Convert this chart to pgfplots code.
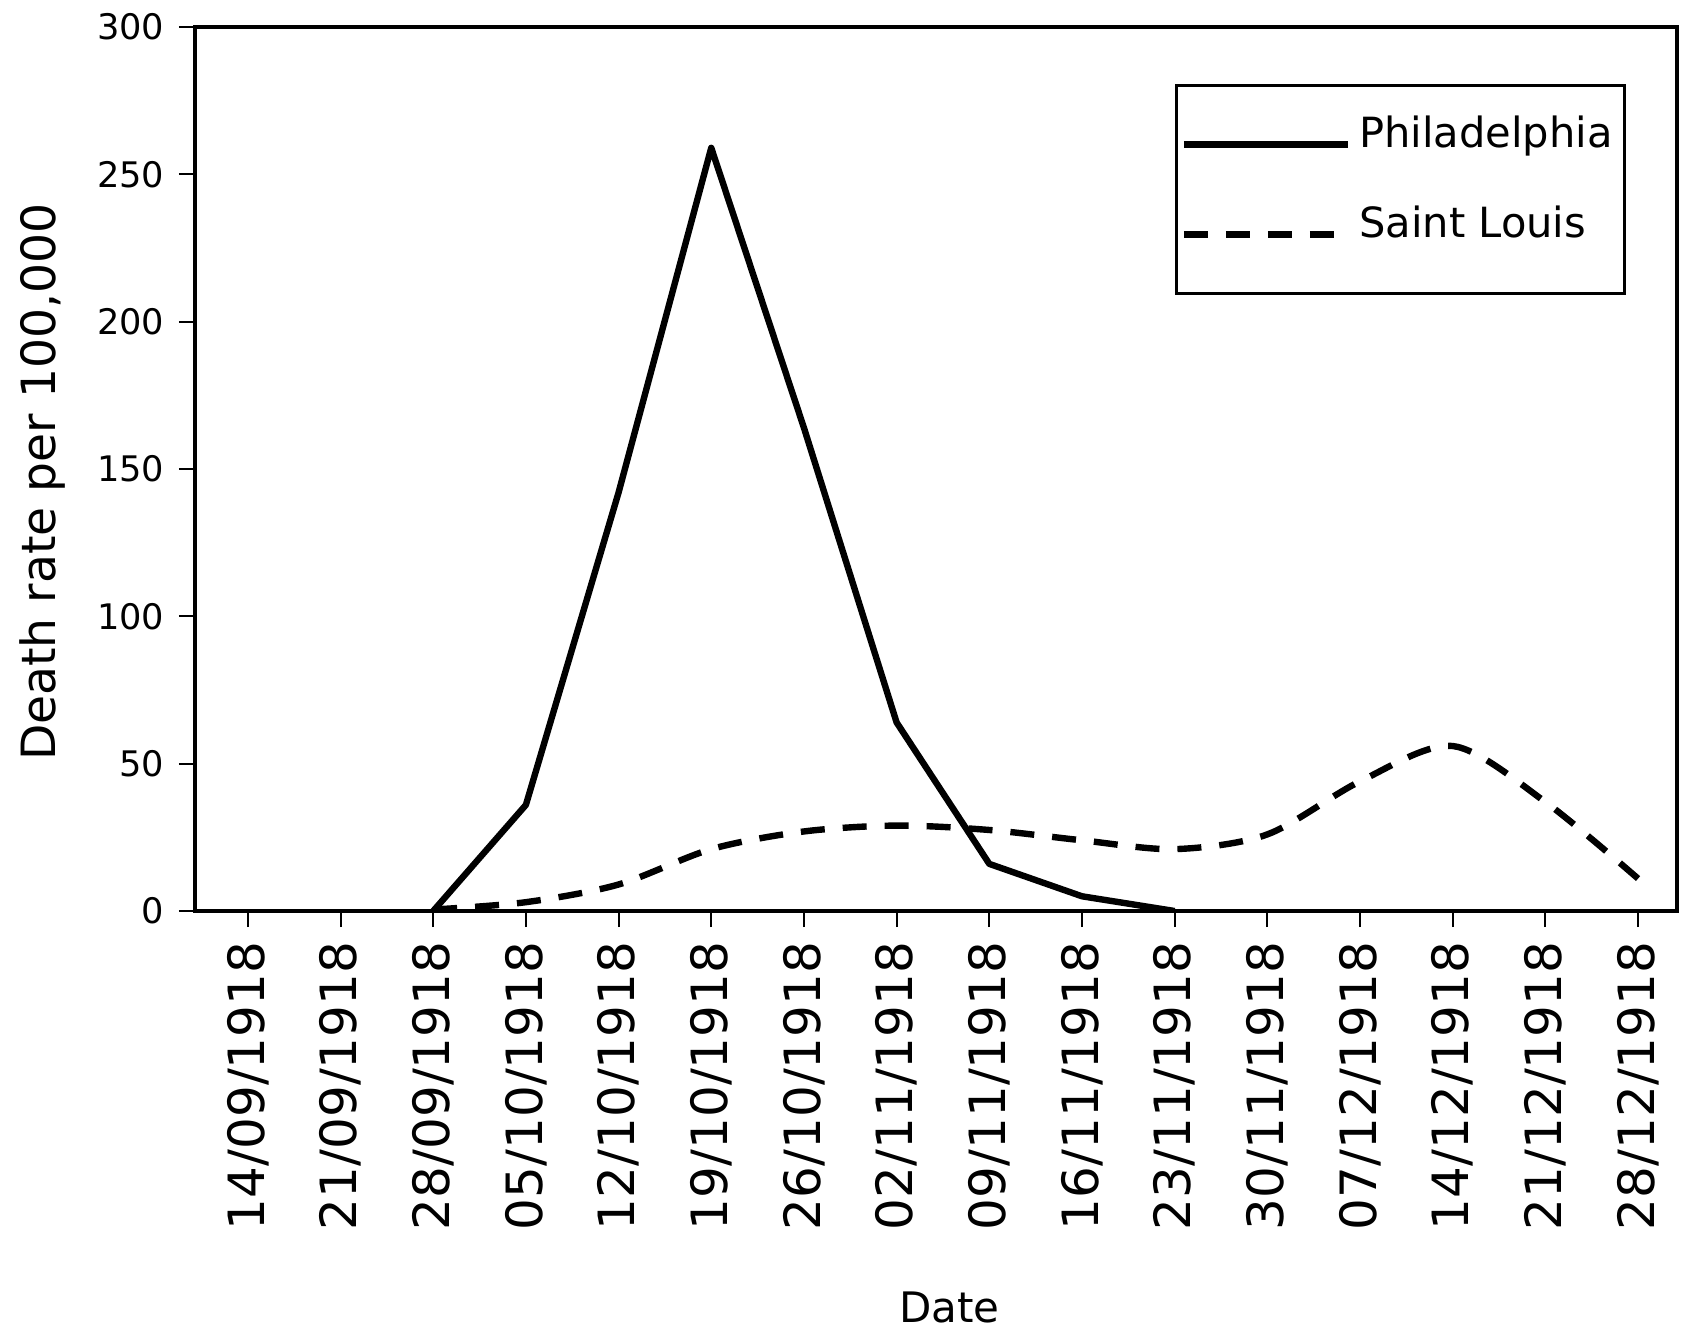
\documentclass[border=0pt]{standalone}
\usepackage{fontspec}
\setmainfont{DejaVu Sans}
\usepackage{pgfplots}
\pgfplotsset{compat=1.18}
\begin{document}
\begin{tikzpicture}
\path[use as bounding box] (-48.75pt,-105.25pt) rectangle (374pt,227.75pt);
\begin{axis}[
  at={(0pt,0pt)}, anchor=south west,
  scale only axis,
  width=370.5pt, height=221pt,
  xmin=-0.57, xmax=15.42,
  ymin=0, ymax=300,
  xtick={0,1,...,15},
  xticklabels={14/09/1918,21/09/1918,28/09/1918,05/10/1918,12/10/1918,19/10/1918,26/10/1918,02/11/1918,09/11/1918,16/11/1918,23/11/1918,30/11/1918,07/12/1918,14/12/1918,21/12/1918,28/12/1918},
  ytick={0,50,...,300},
  tick align=outside,
  xtick pos=bottom, ytick pos=left,
  major tick length=4pt,
  axis line style={line width=0.8pt},
  every tick/.style={black, line width=0.5pt},
  xticklabel shift=3.5pt,
  yticklabel shift=1.5pt,
  xticklabel style={rotate=90, anchor=east, inner sep=0pt, font=\fontsize{12.5}{14}\selectfont},
  yticklabel style={anchor=east, inner sep=0pt, xshift=-2pt, font=\fontsize{8.8}{10}\selectfont},
  /pgf/number format/assume math mode=true,
  xlabel={Date},
  xlabel style={at={(rel axis cs:0.509,0)}, anchor=center, yshift=-99pt, font=\fontsize{10.5}{12}\selectfont},
  ylabel={Death rate per 100,000},
  ylabel style={at={(rel axis cs:-0.1026,0.485)}, anchor=center, font=\fontsize{11.8}{14}\selectfont},
  legend style={at={(rel axis cs:1,1)}, anchor=north east, xshift=-12.75pt, yshift=-14.25pt,
    draw=black, line width=0.7pt, font=\fontsize{10.4}{12}\selectfont,
    inner xsep=1pt, inner ysep=5.9pt, row sep=4.8pt,
    nodes={inner sep=2pt, text height=7.6pt, text depth=6.1pt}},
  legend cell align=left,
  legend image code/.code={\draw[#1] (0pt,0pt) -- (41pt,0pt);},
]
\addplot[black, line width=1.6pt, line join=round] coordinates {
(2,0) (3,36) (4,142) (5,259) (6,164) (7,64) (8,16) (9,5) (10,0)
};
\addlegendentry{Philadelphia}
\addplot[black, line width=1.6pt, dash pattern=on 6pt off 4.5pt, smooth] coordinates {
(2,0.5) (3,3) (4,9) (5,21) (6,27) (7,29) (8,27.5) (9,24) (10,21) (11,26) (12,44) (13,56) (14,37) (15,11)
};
\addlegendentry{Saint Louis}
\end{axis}
\end{tikzpicture}
\end{document}
